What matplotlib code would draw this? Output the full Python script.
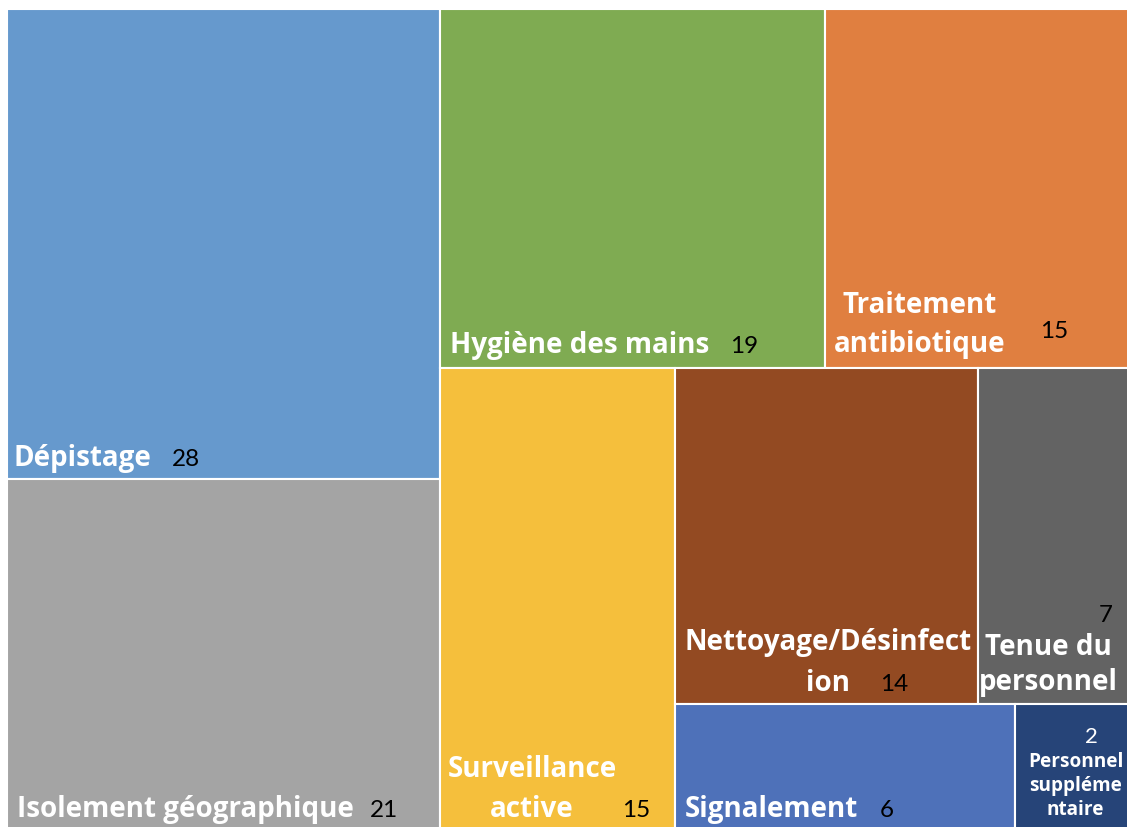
import matplotlib
matplotlib.use('Agg')
import matplotlib.pyplot as plt
from matplotlib.patches import Rectangle

# Mesures de prévention citées et nombre de mentions
names = ['Dépistage', 'Isolement géographique', 'Hygiène des mains',
         'Traitement antibiotique', 'Surveillance active',
         'Nettoyage/Désinfection', 'Tenue du personnel', 'Signalement',
         'Personnel supplémentaire']
values = [28, 21, 19, 15, 15, 14, 7, 6, 2]
colors = ['#6699CD', '#A4A4A4', '#7FAB52', '#E07F40', '#F5BF3C',
          '#934A22', '#636363', '#4E71B9', '#264478']
# texte affiché (coupures de ligne comme dans Excel)
shown = ['Dépistage', 'Isolement géographique', 'Hygiène des mains',
         'Traitement\nantibiotique', 'Surveillance\nactive',
         'Nettoyage/Désinfect\nion', 'Tenue du\npersonnel', 'Signalement',
         'Personnel\nsuppléme\nntaire']

# découpage du treemap : 'x' = côte à côte, 'y' = empilés
tree = ('x', [('y', [0, 1]),
              ('y', [('x', [2, 3]),
                     ('x', [4, ('y', [('x', [5, 6]), ('x', [7, 8])])])])])

# placement des étiquettes en pixels depuis le coin bas-gauche de la case :
# (x nom, base nom, alignement, interligne, x valeur, base valeur, align valeur, petite police)
place = {
    0: (7, 14, 'left', 40, 165, 14, 'left', False),
    1: (10, 16, 'left', 40, 363, 16, 'left', False),
    2: (10, 16, 'left', 40, 290, 16, 'left', False),
    3: (95, 17, 'center', 39, 215, 31, 'left', False),
    4: (92, 16, 'center', 40, 182, 16, 'left', False),
    5: (153, 14, 'center', 41, 205, 14, 'left', False),
    6: (71, 15, 'center', 35, 135, 83, 'right', False),
    7: (10, 16, 'left', 40, 205, 16, 'left', False),
    8: (60, 18, 'center', 24, 76, 90, 'center', True),
}

W, H = 1122, 823


def total(node):
    if isinstance(node, int):
        return values[node]
    return sum(total(c) for c in node[1])


def layout(node, x, y, w, h, out):
    if isinstance(node, int):
        out[node] = (x, y, w, h)
        return
    direction, children = node
    s = total(node)
    for c in children:
        f = total(c) / s
        if direction == 'x':
            layout(c, x, y, w * f, h, out)
            x += w * f
        else:
            layout(c, x, y, w, h * f, out)
            y += h * f


rects = {}
layout(tree, 0, 0, W, H, rects)

plt.rcParams['font.family'] = ['Open Sans', 'DejaVu Sans']

fig = plt.figure(figsize=(11.27, 8.28), dpi=100)
ax = fig.add_axes([7 / 1127, (828 - 833) / 828, W / 1127, H / 828])
ax.set_xlim(0, W)
ax.set_ylim(H, 0)
ax.axis('off')

for i, name in enumerate(names):
    x, y, w, h = rects[i]
    ax.add_patch(Rectangle((x, y), w, h, facecolor=colors[i],
                           edgecolor='white', linewidth=1.5))
    ndx, nup, ha, gap, vdx, vup, vha, small = place[i]
    bottom = y + h
    lines = shown[i].split('\n')
    for k, line in enumerate(lines):
        base = bottom - nup - (len(lines) - 1 - k) * gap
        ax.text(x + ndx, base, line, ha=ha, va='baseline', color='white',
                fontsize=13.7 if small else 20, fontweight='bold')
    ax.text(x + vdx, bottom - vup, str(values[i]), ha=vha, va='baseline',
            color='white' if small else 'black', fontsize=16 if small else 17.5,
            family=['Lato', 'DejaVu Sans'])

fig.savefig('out.png', dpi=100)
